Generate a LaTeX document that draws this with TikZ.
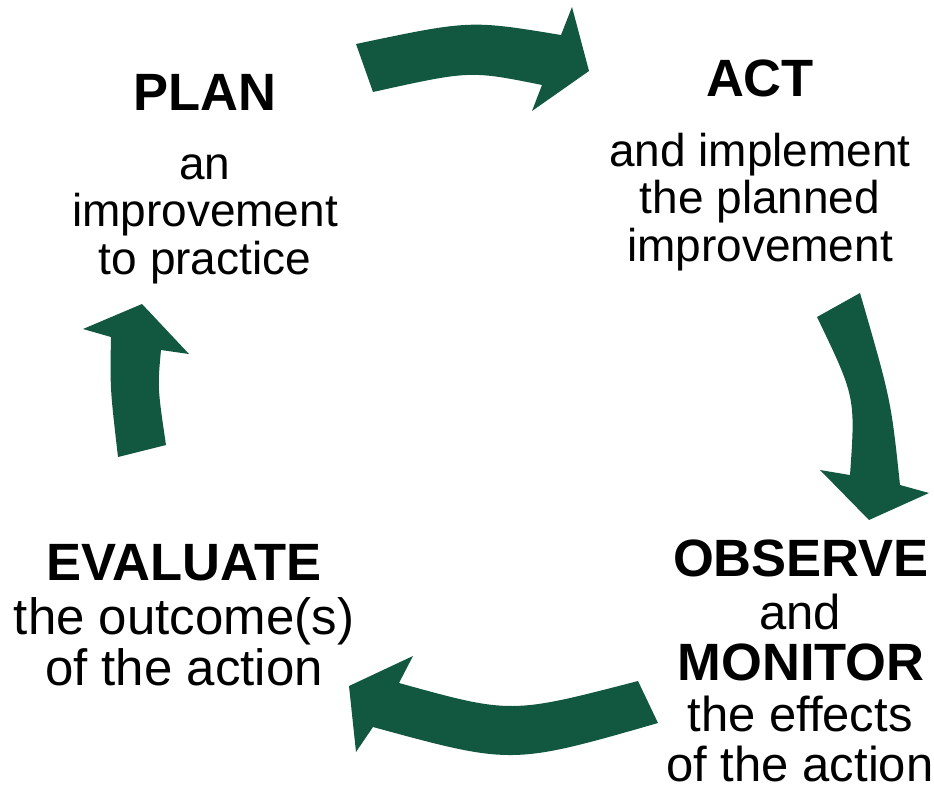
\documentclass[tikz,border=0pt]{standalone}
\usepackage{fontspec}
\setmainfont{Liberation Sans}
\usetikzlibrary{positioning}
\definecolor{cyclegreen}{RGB}{18,88,64}

\begin{document}
\begin{tikzpicture}[x=1pt, y=-1pt,
    every node/.style={align=center, inner sep=0pt},
    head/.style={font=\fontsize{52.5}{55}\selectfont\bfseries},
    body/.style={font=\fontsize{46}{47.5}\selectfont},
    lowbody/.style={font=\fontsize{49}{50}\selectfont},
    evalbody/.style={font=\fontsize{51}{51}\selectfont},
    bigarrow/.style={fill=cyclegreen}]
    \useasboundingbox (0,0) rectangle (934,786);

    % the four curved arrows, clockwise
    \fill[bigarrow] (356,44) .. controls (470,20) .. (561,35)
        -- (572,7) -- (589,71) -- (532,111) -- (542,85)
        .. controls (470,70.5) .. (373,92) -- cycle;
    \fill[bigarrow] (860,293) .. controls (891,400) .. (900,485)
        -- (929,493) -- (869,520) -- (820,470) -- (850,475)
        .. controls (855.5,397) .. (817,317) -- cycle;
    \fill[bigarrow] (658,723) .. controls (512,765) .. (373,727)
        -- (356,752) -- (349,686) -- (413,656) -- (399,683)
        .. controls (511,714) .. (638,681) -- cycle;
    \fill[bigarrow] (118,457) .. controls (110,388) .. (111,337)
        -- (83,329) -- (142,304) -- (189,354) -- (161,350)
        .. controls (157.5,387.5) .. (166,445) -- cycle;

    % stages
    \node[head] (plan) at (205,92) {PLAN};
    \node[body] (plantxt) at (205,219) {an\\improvement\\to practice};
    \node[head] (act) at (760,78) {ACT};
    \node[body] (acttxt) at (760,202) {and implement\\the planned\\improvement};
    \node[head] (obs) at (801,558) {OBSERVE};
    \node[lowbody] (and) at (800,612) {and};
    \node[head] (mon) at (801,662) {MONITOR};
    \node[lowbody] (montxt) at (800,739) {the effects\\of the action};
    \node[head] (eval) at (184,563) {EVALUATE};
    \node[evalbody] (evaltxt) at (184,642) {the outcome(s)\\of the action};
\end{tikzpicture}
\end{document}
